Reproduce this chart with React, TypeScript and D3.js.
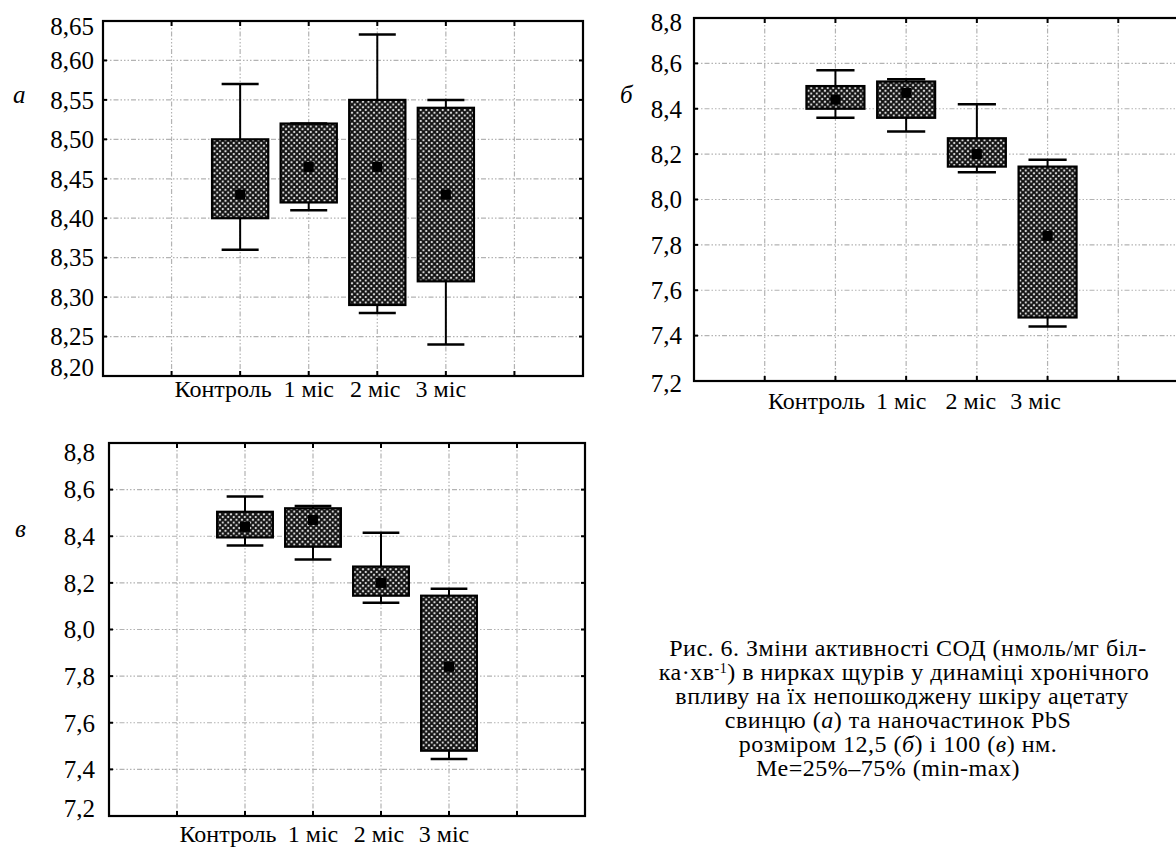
import React from "react";
import * as d3 from "d3";

const CATEGORIES = ["Контроль", "1 міс", "2 міс", "3 міс"];

// panel а
const A_TICKS = [8.2, 8.25, 8.3, 8.35, 8.4, 8.45, 8.5, 8.55, 8.6, 8.65];
const A_MIN = [8.36, 8.41, 8.28, 8.24];
const A_Q1 = [8.4, 8.42, 8.29, 8.32];
const A_MED = [8.43, 8.465, 8.465, 8.43];
const A_Q3 = [8.5, 8.52, 8.55, 8.54];
const A_MAX = [8.57, 8.52, 8.633, 8.55];

// panel б
const B_TICKS = [7.2, 7.4, 7.6, 7.8, 8.0, 8.2, 8.4, 8.6, 8.8];
const B_MIN = [8.36, 8.3, 8.12, 7.44];
const B_Q1 = [8.4, 8.36, 8.145, 7.48];
const B_MED = [8.44, 8.47, 8.2, 7.84];
const B_Q3 = [8.5, 8.52, 8.27, 8.145];
const B_MAX = [8.57, 8.53, 8.42, 8.175];

// panel в
const C_TICKS = [7.2, 7.4, 7.6, 7.8, 8.0, 8.2, 8.4, 8.6, 8.8];
const C_MIN = [8.36, 8.3, 8.115, 7.445];
const C_Q1 = [8.395, 8.355, 8.145, 7.48];
const C_MED = [8.44, 8.47, 8.2, 7.84];
const C_Q3 = [8.505, 8.52, 8.27, 8.145];
const C_MAX = [8.57, 8.53, 8.415, 8.175];

const FONT = "'Liberation Serif', 'Times New Roman', serif";

type PanelProps = {
  letter: string;
  letterX: number;
  letterY: number;
  left: number;
  right: number;
  top: number;
  bottom: number;
  ticks: number[];
  decimals: number;
  min: number[];
  q1: number[];
  med: number[];
  q3: number[];
  max: number[];
  labelY: number;
  labelGap: number;
  topShift: number;
  bottomShift: number;
  catDx: number[];
  id: string;
};

const Panel = (p: PanelProps) => {
  const y = d3
    .scaleLinear()
    .domain([p.ticks[0], p.ticks[p.ticks.length - 1]])
    .range([p.bottom, p.top]);
  const x = d3.scaleLinear().domain([0, 7]).range([p.left, p.right]);
  const xTicks = [1, 2, 3, 4, 5, 6];
  const step = x(1) - x(0);
  const boxW = step * 0.82;
  const capW = step * 0.54;
  const mk = 10;
  const fmt = (v: number) => v.toFixed(p.decimals).replace(".", ",");
  const gridDash = "1.5 2 1.5 2 1.5 2 5 2";
  return (
    <g>
      <text
        x={p.letterX}
        y={p.letterY}
        fontFamily={FONT}
        fontStyle="italic"
        fontSize={25}
      >
        {p.letter}
      </text>
      {p.ticks.slice(1, -1).map((t, i) => (
        <line
          key={"hg" + i}
          x1={p.left}
          x2={p.right}
          y1={y(t)}
          y2={y(t)}
          stroke="#b3b3b3"
          strokeWidth={1.2}
          strokeDasharray={gridDash}
        />
      ))}
      {xTicks.map((t, i) => (
        <line
          key={"vg" + i}
          x1={x(t)}
          x2={x(t)}
          y1={p.top}
          y2={p.bottom}
          stroke="#b3b3b3"
          strokeWidth={1.2}
          strokeDasharray={gridDash}
        />
      ))}
      {CATEGORIES.map((c, i) => {
        const cx = x(i + 2);
        return (
          <g key={"b" + i}>
            <line
              x1={cx}
              x2={cx}
              y1={y(p.max[i])}
              y2={y(p.min[i])}
              stroke="#000"
              strokeWidth={2}
            />
            <rect
              x={cx - boxW / 2}
              y={y(p.q3[i])}
              width={boxW}
              height={y(p.q1[i]) - y(p.q3[i])}
              fill={`url(#hatch-${p.id})`}
              stroke="#000"
              strokeWidth={2.2}
            />
            <line
              x1={cx - capW / 2}
              x2={cx + capW / 2}
              y1={y(p.max[i])}
              y2={y(p.max[i])}
              stroke="#000"
              strokeWidth={2.5}
            />
            <line
              x1={cx - capW / 2}
              x2={cx + capW / 2}
              y1={y(p.min[i])}
              y2={y(p.min[i])}
              stroke="#000"
              strokeWidth={2.5}
            />
            <rect
              x={cx - mk / 2}
              y={y(p.med[i]) - mk / 2}
              width={mk}
              height={mk}
              fill="#000"
            />
          </g>
        );
      })}
      <rect
        x={p.left}
        y={p.top}
        width={p.right - p.left}
        height={p.bottom - p.top}
        fill="none"
        stroke="#000"
        strokeWidth={2.2}
      />
      {p.ticks.slice(1, -1).map((t, i) => (
        <g key={"yt" + i}>
          <line x1={p.left} x2={p.left + 4} y1={y(t)} y2={y(t)} stroke="#000" strokeWidth={2} />
          <line x1={p.right} x2={p.right - 4} y1={y(t)} y2={y(t)} stroke="#000" strokeWidth={2} />
        </g>
      ))}
      {xTicks.map((t, i) => (
        <g key={"xt" + i}>
          <line x1={x(t)} x2={x(t)} y1={p.top} y2={p.top + 5} stroke="#000" strokeWidth={2} />
          <line x1={x(t)} x2={x(t)} y1={p.bottom} y2={p.bottom - 5} stroke="#000" strokeWidth={2} />
        </g>
      ))}
      {p.ticks.map((t, i) => {
        let yy = y(t);
        if (i === 0) yy += p.bottomShift;
        if (i === p.ticks.length - 1) yy += p.topShift;
        return (
          <text
            key={"yl" + i}
            x={p.left - p.labelGap}
            y={yy}
            dy="0.35em"
            textAnchor="end"
            fontFamily={FONT}
            fontSize={25}
          >
            {fmt(t)}
          </text>
        );
      })}
      {CATEGORIES.map((c, i) => (
        <text
          key={"xl" + i}
          x={x(i + 2) + p.catDx[i]}
          y={p.labelY}
          textAnchor="middle"
          fontFamily={FONT}
          fontSize={24}
        >
          {c}
        </text>
      ))}
    </g>
  );
};

const Hatch = ({ id }: { id: string }) => (
  <pattern id={id} width={5.5} height={5.5} patternUnits="userSpaceOnUse">
    <rect width={5.5} height={5.5} fill="#f4f4f4" />
    <path d="M0,0 L5.5,5.5 M5.5,0 L0,5.5" stroke="#111" strokeWidth={2} />
  </pattern>
);

export default function App() {
  const capX = 898;
  const capLines = 24;
  const capY0 = 656;
  return (
    <svg
      width={1176}
      height={847}
      style={{ position: "absolute", left: 0, top: 0, background: "#fff" }}
    >
      <defs>
        <Hatch id="hatch-a" />
        <Hatch id="hatch-b" />
        <Hatch id="hatch-c" />
      </defs>
      <rect width={1176} height={847} fill="#fff" />
      <Panel
        id="a"
        letter="а"
        letterX={13}
        letterY={103}
        left={103}
        right={583}
        top={21}
        bottom={376}
        ticks={A_TICKS}
        decimals={2}
        min={A_MIN}
        q1={A_Q1}
        med={A_MED}
        q3={A_Q3}
        max={A_MAX}
        labelY={397}
        labelGap={9}
        topShift={5}
        bottomShift={-9}
        catDx={[-17, 0, -2, -5]}
      />
      <Panel
        id="b"
        letter="б"
        letterX={620}
        letterY={103}
        left={694}
        right={1189}
        top={18}
        bottom={381}
        ticks={B_TICKS}
        decimals={1}
        min={B_MIN}
        q1={B_Q1}
        med={B_MED}
        q3={B_Q3}
        max={B_MAX}
        labelY={409}
        labelGap={12}
        topShift={4}
        bottomShift={2}
        catDx={[-19, -5, -6, -12]}
      />
      <Panel
        id="c"
        letter="в"
        letterX={15}
        letterY={537}
        left={109}
        right={585}
        top={443}
        bottom={816}
        ticks={C_TICKS}
        decimals={1}
        min={C_MIN}
        q1={C_Q1}
        med={C_MED}
        q3={C_Q3}
        max={C_MAX}
        labelY={842}
        labelGap={14}
        topShift={9}
        bottomShift={-8}
        catDx={[-17, 0, -2, -5]}
      />
      <g fontFamily={FONT} fontSize={24} textAnchor="middle" letterSpacing={0.5}>
        <text x={capX + 10} y={capY0}>
          Рис. 6. Зміни активності СОД (нмоль/мг біл-
        </text>
        <text x={capX + 6} y={capY0 + capLines}>
          ка·хв<tspan fontSize={14} dy={-7}>-1</tspan>
          <tspan dy={7}>) в нирках щурів у динаміці хронічного</tspan>
        </text>
        <text x={capX + 4} y={capY0 + capLines * 2}>
          впливу на їх непошкоджену шкіру ацетату
        </text>
        <text x={capX} y={capY0 + capLines * 3}>
          свинцю (<tspan fontStyle="italic">а</tspan>) та наночастинок PbS
        </text>
        <text x={capX} y={capY0 + capLines * 4}>
          розміром 12,5 (<tspan fontStyle="italic">б</tspan>) і 100 (
          <tspan fontStyle="italic">в</tspan>) нм.
        </text>
        <text x={capX - 10} y={capY0 + capLines * 5}>
          Ме=25%–75% (min-max)
        </text>
      </g>
    </svg>
  );
}
